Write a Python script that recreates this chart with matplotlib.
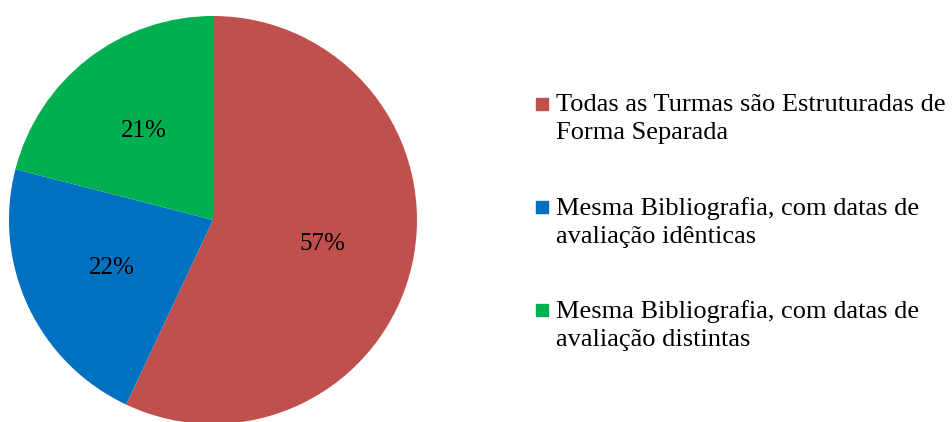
import matplotlib.pyplot as plt
from matplotlib.patches import Rectangle

plt.rcParams['font.family'] = ['Liberation Serif', 'DejaVu Serif']

# dados
categorias = ['Todas as Turmas são Estruturadas de\nForma Separada',
              'Mesma Bibliografia, com datas de\navaliação idênticas',
              'Mesma Bibliografia, com datas de\navaliação distintas']
valores = [57, 22, 21]
cores = ['#C0504D', '#0070C0', '#00B050']

W, H = 953, 422
fig = plt.figure(figsize=(W / 100, H / 100), dpi=100)

# pie: centro (213, 220) px, raio ~204 px
cx, cy, r = 213, 220, 204
ax = fig.add_axes([(cx - r) / W, (H - cy - r) / H, 2 * r / W, 2 * r / H])
ax.pie(valores, colors=cores, startangle=90, counterclock=False,
       autopct='%1.0f%%', pctdistance=0.55,
       textprops={'fontsize': 18, 'color': 'black'},
       wedgeprops={'linewidth': 0})
ax.set_xlim(-1, 1)
ax.set_ylim(-1, 1)
ax.set_aspect('equal')
ax.axis('off')

# legenda manual (quadrado alinhado com a primeira linha)
y0 = 104
for i, (lab, c) in enumerate(zip(categorias, cores)):
    yc = y0 + i * 103
    sq = 12
    fig.patches.append(Rectangle((536 / W, (H - yc - sq / 2) / H), sq / W, sq / H,
                                 transform=fig.transFigure, color=c))
    fig.text(556 / W, (H - yc + 10) / H, lab, fontsize=19, va='top', ha='left',
             linespacing=1.35)

fig.savefig('out.png', dpi=100)
